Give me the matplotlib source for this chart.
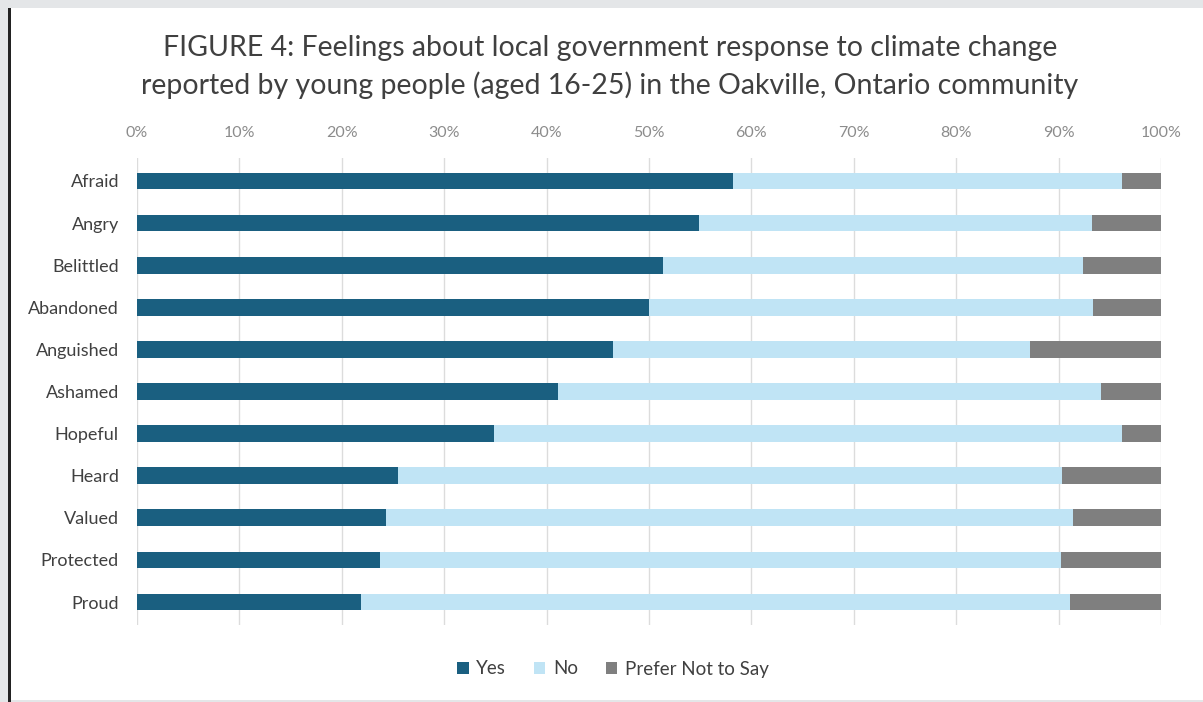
import matplotlib
matplotlib.use("Agg")
import matplotlib.pyplot as plt
from matplotlib.patches import Rectangle
from matplotlib.ticker import PercentFormatter

categories = ["Afraid", "Angry", "Belittled", "Abandoned", "Anguished", "Ashamed",
              "Hopeful", "Heard", "Valued", "Protected", "Proud"]
yes = [58.2, 54.9, 51.4, 50.0, 46.5, 41.1, 34.9, 25.5, 24.3, 23.7, 21.9]
no = [38.0, 38.4, 41.0, 43.4, 40.7, 53.0, 61.3, 64.8, 67.1, 66.5, 69.2]
prefer = [3.8, 6.7, 7.6, 6.6, 12.8, 5.9, 3.8, 9.7, 8.6, 9.8, 8.9]
series_names = ["Yes", "No", "Prefer Not to Say"]
colors = ["#1a5f80", "#c0e4f5", "#7f7f7f"]
ticks = list(range(0, 101, 10))

plt.rcParams['font.family'] = ['Lato', 'DejaVu Sans']

W, H = 1203, 702
fig = plt.figure(figsize=(W / 100, H / 100), dpi=100)
fig.patch.set_facecolor("white")
# outer gray frame and dark left edge
fig.patches.append(Rectangle((0, 1 - 8 / H), 1, 8 / H, transform=fig.transFigure,
                             facecolor="#e4e6e8", edgecolor="none", zorder=0))
fig.patches.append(Rectangle((0, 0), 8 / W, 1, transform=fig.transFigure,
                             facecolor="#e4e6e8", edgecolor="none", zorder=0))
fig.patches.append(Rectangle((8 / W, 0), 3 / W, 1 - 8 / H, transform=fig.transFigure,
                             facecolor="#222222", edgecolor="none", zorder=1))
fig.patches.append(Rectangle((11 / W, 0), 1 - 11 / W, 2 / H, transform=fig.transFigure,
                             facecolor="#e4e6e8", edgecolor="none", zorder=1))

left = 137 / W
right = 1161 / W
top = 1 - 157.8 / H
bottom = 1 - 625.2 / H
ax = fig.add_axes([left, bottom, right - left, top - bottom])

y = list(range(len(categories)))
left_no = yes
left_pref = [a + b for a, b in zip(yes, no)]
bh = 0.4
ax.barh(y, yes, height=bh, color=colors[0], label=series_names[0], zorder=3)
ax.barh(y, no, left=left_no, height=bh, color=colors[1], label=series_names[1], zorder=3)
ax.barh(y, prefer, left=left_pref, height=bh, color=colors[2], label=series_names[2], zorder=3)

ax.set_xlim(0, 100)
ax.set_ylim(len(categories) - 0.45, -0.55)
ax.set_yticks(y)
ax.set_yticklabels(categories, fontsize=13, color="#404040")
ax.set_xticks(ticks)
ax.xaxis.set_major_formatter(PercentFormatter(decimals=0))
ax.xaxis.tick_top()
ax.tick_params(axis="x", length=0, labelsize=11.5, labelcolor="#8c8c8c", pad=13)
ax.tick_params(axis="y", length=0, pad=13)
for s in ax.spines.values():
    s.set_visible(False)
ax.grid(axis="x", color="#dcdcdc", linewidth=1.0, zorder=0)
ax.set_axisbelow(True)

fig.text(610 / W, 1 - 67 / H,
         "FIGURE 4: Feelings about local government response to climate change\n"
         "reported by young people (aged 16-25) in the Oakville, Ontario community",
         ha="center", va="center", fontsize=20.5, color="#404040", linespacing=1.42)

fig.legend(loc="center", bbox_to_anchor=(613 / W, 1 - 669 / H), ncol=3, frameon=False,
           fontsize=13.5, labelcolor="#404040", handlelength=0.6, handleheight=0.6,
           handletextpad=0.4, columnspacing=1.5)

fig.savefig("out.png", dpi=100, facecolor=fig.get_facecolor())
